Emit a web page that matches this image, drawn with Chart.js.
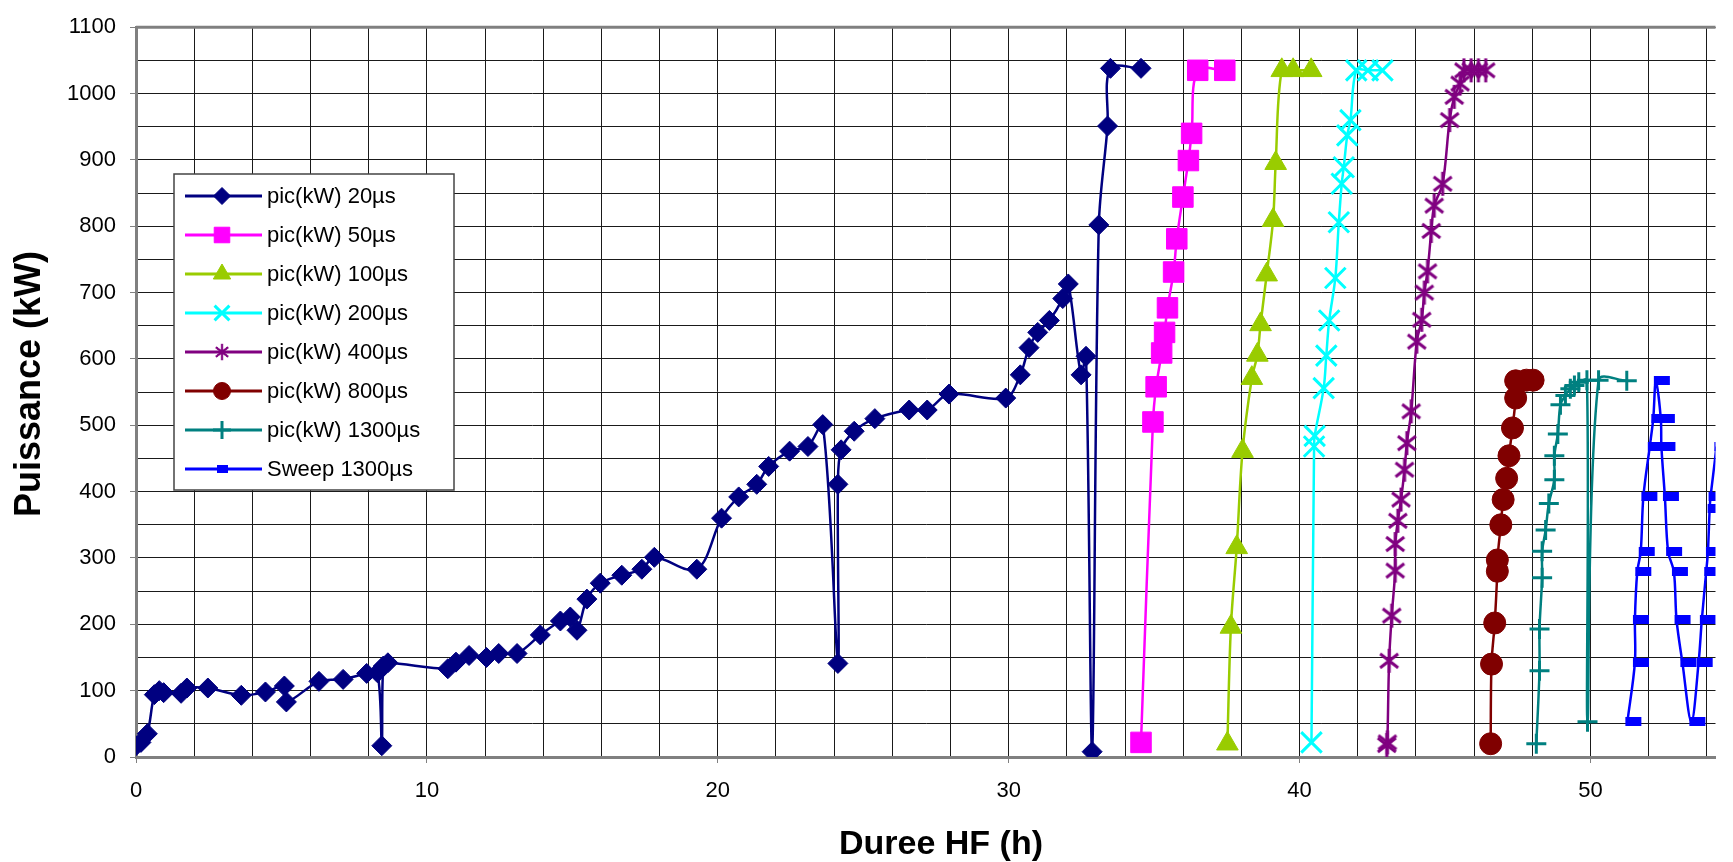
<!DOCTYPE html>
<html>
<head>
<meta charset="utf-8">
<script src="https://cdn.jsdelivr.net/npm/chart.js@4/dist/chart.umd.min.js"></script>
<style>
  html, body { margin: 0; padding: 0; background: #fff; overflow: hidden; }
</style>
</head>
<body>
<canvas id="chart" width="1733" height="862"></canvas>
<script>
// hours / kW, one pair of arrays per series
const h20 = [0, 0.17, 0.39, 0.63, 0.8, 0.95, 1.55, 1.75, 2.47, 3.62, 4.45, 5.1, 5.17, 6.29, 7.12, 7.93, 8.3, 8.45, 8.5, 8.66,
  10.72, 11.0, 11.45, 12.05, 12.47, 13.1, 13.9, 14.59, 14.93, 15.16, 15.5, 15.96, 16.7, 17.39, 17.82, 19.28, 20.13, 20.72,
  21.34, 21.75, 22.47, 23.1, 23.61, 24.13, 24.13, 24.24, 24.69, 25.4, 26.58, 27.2, 27.95, 29.9, 30.4, 30.7, 31.0, 31.4,
  31.86, 32.05, 32.49, 32.66, 32.87, 33.1, 33.4, 33.5, 34.55];
const kw20 = [17, 22, 35, 94, 100, 97, 96, 104, 104, 93, 98, 107, 83, 114, 117, 126, 127, 17, 137, 142,
  133, 143, 153, 150, 156, 156, 184, 205, 211, 191, 238, 262, 274, 283, 301, 283, 360, 392,
  411, 438, 461, 468, 501, 141, 411, 463, 491, 510, 523, 523, 547, 541, 576, 617, 640, 658,
  691, 713, 576, 604, 8, 802, 951, 1038, 1038];

const h50 = [34.55, 34.96, 35.07, 35.26, 35.36, 35.46, 35.67, 35.78, 35.99, 36.18, 36.29, 36.5, 37.43];
const kw50 = [22, 505, 558, 609, 640, 677, 731, 781, 844, 899, 940, 1035, 1035];

const h100 = [37.52, 37.64, 37.84, 38.04, 38.36, 38.55, 38.66, 38.87, 39.09, 39.18, 39.39, 39.78, 40.4];
const kw100 = [20, 196, 316, 461, 571, 606, 652, 727, 809, 895, 1035, 1035, 1035];

const h200 = [40.41, 40.5, 40.52, 40.83, 40.92, 41.02, 41.23, 41.35, 41.45, 41.52, 41.64, 41.75, 41.95, 42.35, 42.85];
const kw200 = [22, 468, 484, 556, 605, 658, 722, 806, 864, 889, 937, 960, 1035, 1035, 1035];

const h400 = [43.0, 43.02, 43.08, 43.17, 43.29, 43.29, 43.38, 43.49, 43.61, 43.69, 43.84, 44.03, 44.2, 44.29, 44.4,
  44.53, 44.63, 44.92, 45.16, 45.32, 45.52, 45.65, 45.9, 46.15, 46.4];
const kw400 = [18, 22, 145, 213, 281, 321, 356, 388, 433, 473, 521, 626, 659, 700, 732,
  793, 831, 864, 960, 995, 1015, 1035, 1035, 1035, 1035];

const h800 = [46.57, 46.6, 46.71, 46.8, 46.8, 46.92, 47.0, 47.12, 47.2, 47.32, 47.43, 47.43, 47.8, 48.03];
const kw800 = [20, 140, 202, 280, 297, 350, 388, 420, 454, 496, 541, 567, 568, 568];

const h1300 = [48.14, 48.25, 48.25, 48.34, 48.34, 48.46, 48.57, 48.76, 48.76, 48.88, 48.97, 49.14, 49.31, 49.45,
  49.6, 49.88, 49.9, 50.28, 51.25];
const kw1300 = [20, 130, 193, 270, 310, 342, 382, 418, 454, 487, 531, 545, 555, 560,
  565, 568, 53, 568, 567];

const hSweep = [51.27, 51.53, 51.53, 51.61, 51.73, 51.82, 52.04, 52.16, 52.25, 52.42, 52.44, 52.56, 52.67, 52.87,
  52.96, 53.16, 53.47, 53.72, 53.83, 53.98, 54.04, 54.1, 54.13, 54.33, 54.39, 54.48];
const kwSweep = [53, 143, 207, 279, 310, 392, 468, 510, 567, 510, 468, 392, 310, 279,
  207, 143, 53, 143, 207, 279, 310, 375, 392, 468, 510, 567];

const seriesNames = ['pic(kW) 20µs', 'pic(kW) 50µs', 'pic(kW) 100µs', 'pic(kW) 200µs',
  'pic(kW) 400µs', 'pic(kW) 800µs', 'pic(kW) 1300µs', 'Sweep 1300µs'];
const xTitle = 'Duree HF (h)';
const yTitle = 'Puissance (kW)';

const FONT = '"Liberation Sans", Arial, sans-serif';

function pts(xs, ys) {
  return xs.map((x, i) => ({ x: x, y: ys[i] }));
}

// Excel "short bar" marker for the sweep series, sitting to the right of the line
const bar = document.createElement('canvas');
bar.width = 32;
bar.height = 9;
let g = bar.getContext('2d');
g.fillStyle = '#0000FF';
g.fillRect(14, 0, 16, 9);

// Excel star marker: an x with a vertical stroke
const star = document.createElement('canvas');
star.width = 26;
star.height = 26;
g = star.getContext('2d');
g.strokeStyle = '#800080';
g.lineWidth = 3;
g.beginPath();
g.moveTo(4, 6); g.lineTo(22, 20);
g.moveTo(22, 6); g.lineTo(4, 20);
g.moveTo(13, 1); g.lineTo(13, 25);
g.stroke();

function series(label, data, color, style, radius, bw, legendRadius) {
  return {
    label: label,
    data: data,
    borderColor: color,
    backgroundColor: color,
    borderWidth: 2.5,
    tension: 0.33,
    fill: false,
    pointStyle: style,
    pointRadius: radius,
    pointHoverRadius: radius,
    pointBackgroundColor: color,
    pointBorderColor: color,
    pointBorderWidth: bw,
    legendRadius: legendRadius
  };
}

const datasets = [
  series(seriesNames[0], pts(h20, kw20), '#000080', 'rectRot', 10, 1, 8.5),
  series(seriesNames[1], pts(h50, kw50), '#FF00FF', 'rect', 14.5, 1, 11),
  series(seriesNames[2], pts(h100, kw100), '#99CC00', 'triangle', 12.5, 1, 10),
  series(seriesNames[3], pts(h200, kw200), '#00FFFF', 'crossRot', 14.5, 3, 10.5),
  series(seriesNames[4], pts(h400, kw400), '#800080', star, 12, 3, 8),
  series(seriesNames[5], pts(h800, kw800), '#800000', 'circle', 11, 1, 8.5),
  series(seriesNames[6], pts(h1300, kw1300), '#008080', 'cross', 10, 3, 9),
  series(seriesNames[7], pts(hSweep, kwSweep), '#0000FF', bar, 5, 1, 5)
];

// thick grey frame line along the top of the plot area
const topFrame = {
  id: 'topFrame',
  beforeDatasetsDraw(chart) {
    const a = chart.chartArea;
    const ctx = chart.ctx;
    ctx.save();
    ctx.strokeStyle = '#808080';
    ctx.lineWidth = 3;
    ctx.beginPath();
    ctx.moveTo(a.left, a.top);
    ctx.lineTo(a.right, a.top);
    ctx.stroke();
    ctx.restore();
  }
};

// axis titles placed like the Excel original
const axisTitles = {
  id: 'axisTitles',
  afterDraw(chart) {
    const ctx = chart.ctx;
    ctx.save();
    ctx.fillStyle = '#000';
    ctx.textAlign = 'center';
    ctx.textBaseline = 'middle';
    ctx.font = 'bold 34px ' + FONT;
    ctx.fillText(xTitle, 941, 845);
    ctx.translate(30, 384);
    ctx.rotate(-Math.PI / 2);
    ctx.font = 'bold 36px ' + FONT;
    ctx.fillText(yTitle, 0, 0);
    ctx.restore();
  }
};

// Excel-like legend box: line + marker + text
const excelLegend = {
  id: 'excelLegend',
  afterDraw(chart) {
    const ctx = chart.ctx;
    ctx.save();
    ctx.fillStyle = '#fff';
    ctx.fillRect(174, 174, 280, 316);
    ctx.strokeStyle = '#444';
    ctx.lineWidth = 1.5;
    ctx.strokeRect(174, 174, 280, 316);
    chart.data.datasets.forEach((ds, i) => {
      const y = 196 + i * 39;
      ctx.strokeStyle = ds.borderColor;
      ctx.fillStyle = ds.borderColor;
      ctx.lineWidth = 3;
      ctx.beginPath();
      ctx.moveTo(185, y);
      ctx.lineTo(262, y);
      ctx.stroke();
      if (ds.pointStyle === bar) {
        ctx.fillRect(217, y - 4, 11, 8);
      } else if (ds.pointStyle === star) {
        ctx.drawImage(star, 222 - 9, y - 9, 18, 18);
      } else if (Chart.helpers && Chart.helpers.drawPoint) {
        ctx.lineWidth = ds.pointBorderWidth;
        Chart.helpers.drawPoint(ctx, {
          pointStyle: ds.pointStyle, radius: ds.legendRadius,
          borderWidth: ds.pointBorderWidth, rotation: 0
        }, 222, y);
      }
      ctx.fillStyle = '#000';
      ctx.font = '22px ' + FONT;
      ctx.textBaseline = 'middle';
      ctx.textAlign = 'left';
      ctx.fillText(ds.label, 267, y + 1);
    });
    ctx.restore();
  }
};

const ctx = document.getElementById('chart').getContext('2d');
const chart = new Chart(ctx, {
  type: 'line',
  data: { datasets: datasets },
  options: {
    responsive: false,
    animation: false,
    layout: { padding: { top: 24, right: 0, bottom: 0, left: 0 } },
    plugins: {
      legend: { display: false },
      tooltip: { enabled: false }
    },
    scales: {
      x: {
        type: 'linear',
        min: 0,
        max: 54.3,
        afterFit: function (s) { s.height = 105; },
        ticks: {
          stepSize: 2,
          includeBounds: false,
          autoSkip: false,
          maxRotation: 0,
          padding: 15,
          color: '#000',
          font: { family: FONT, size: 22 },
          callback: function (v) { return (v % 10 === 0 && v <= 50) ? v : ''; }
        },
        grid: {
          color: '#1a1a1a',
          lineWidth: 1,
          tickLength: 6,
          tickColor: function (c) { return (c.tick && c.tick.value % 10 === 0) ? '#808080' : 'rgba(0,0,0,0)'; }
        },
        border: { color: '#808080', width: 3 },
        title: { display: false }
      },
      y: {
        min: 0,
        max: 1100,
        afterFit: function (s) { s.width = 136; },
        ticks: {
          stepSize: 50,
          autoSkip: false,
          padding: 14,
          color: '#000',
          font: { family: FONT, size: 22 },
          callback: function (v) { return v % 100 === 0 ? v : ''; }
        },
        grid: {
          color: '#1a1a1a',
          lineWidth: 1,
          tickLength: 6,
          tickColor: function (c) { return (c.tick && c.tick.value % 100 === 0) ? '#808080' : 'rgba(0,0,0,0)'; }
        },
        border: { color: '#808080', width: 3 },
        title: { display: false }
      }
    }
  },
  plugins: [topFrame, axisTitles, excelLegend]
});
</script>
</body>
</html>
